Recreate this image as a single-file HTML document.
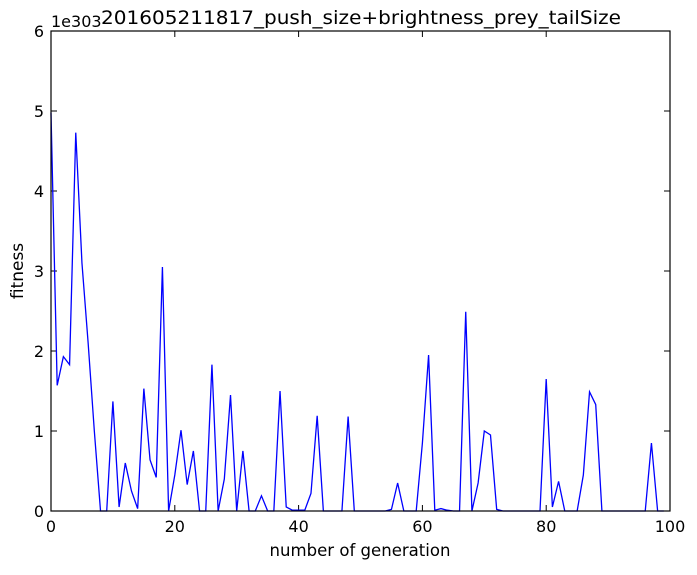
<!DOCTYPE html>
<html><head><meta charset="utf-8"><style>
body{margin:0;background:#fff;}
svg text{font-family:"DejaVu Sans","Liberation Sans",sans-serif;fill:#000;}
</style></head><body>
<svg id="chart" width="697" height="570">
<rect width="697" height="570" fill="#fff"/>
<text x="361" y="24" font-size="19" text-anchor="middle" textLength="520" lengthAdjust="spacingAndGlyphs">201605211817_push_size+brightness_prey_tailSize</text>
<text x="51" y="27" font-size="16">1e303</text>
<text x="360" y="556" font-size="17" text-anchor="middle" textLength="181" lengthAdjust="spacingAndGlyphs">number of generation</text>
<text x="23" y="271" font-size="17" text-anchor="middle" transform="rotate(-90 23 271)">fitness</text>
<g id="ticks"></g>
<path id="line" fill="none" stroke="#0000ff" stroke-width="1.3"/>
<rect x="51" y="31" width="619" height="480" fill="none" stroke="#000" stroke-width="1.2"/>
</svg>
<script>
const fitness=[4.98,1.57,1.93,1.83,4.73,3.1,2.1,1.0,0,0,
1.37,0.05,0.6,0.25,0.03,1.53,0.64,0.42,3.05,0,
0.45,1.01,0.33,0.75,0,0,1.83,0,0.4,1.45,
0,0.75,0,0,0.19,0,0,1.5,0.05,0.01,
0.01,0.01,0.22,1.19,0,0,0,0,1.18,0,
0,0,0,0,0,0.02,0.35,0,0,0,
0.85,1.95,0.01,0.03,0.01,0,0,2.49,0,0.35,
1.0,0.95,0.02,0,0,0,0,0,0,0,
1.65,0.05,0.37,0,0,0,0.45,1.49,1.33,0,
0,0,0,0,0,0,0,0.85,0,0];
const xTicks=[0,20,40,60,80,100];
const yTicks=[0,1,2,3,4,5,6];
const X0=51,X1=670,Y0=511,Y1=31;
function sx(v){return X0+(v-0)/(100-0)*(X1-X0);}
function sy(v){return Y0-(v-0)/(6-0)*(Y0-Y1);}
const ns="http://www.w3.org/2000/svg";
const g=document.getElementById('ticks');
function mk(tag,attrs){const e=document.createElementNS(ns,tag);for(const k in attrs)e.setAttribute(k,attrs[k]);g.appendChild(e);return e;}
xTicks.forEach(t=>{
 const x=sx(t);
 const a=mk('line',{x1:x,x2:x,y1:Y0,y2:Y0-6,stroke:'#000'});
 
 
 const b=mk('line',{x1:x,x2:x,y1:Y1,y2:Y1+6,stroke:'#000'});
 
 
 const l=mk('text',{x:x,y:Y0+21,'font-size':16,'text-anchor':'middle'});
 l.textContent=t;
 
 
});
yTicks.forEach(t=>{
 const y=sy(t);
 const a=mk('line',{x1:X0,x2:X0+6,y1:y,y2:y,stroke:'#000'});
 
 
 const b=mk('line',{x1:X1,x2:X1-6,y1:y,y2:y,stroke:'#000'});
 
 
 const l=mk('text',{x:X0-7,y:y+6,'font-size':16,'text-anchor':'end'});
 l.textContent=t;
 
 
});
document.getElementById('line').setAttribute('d',fitness.map((v,i)=>(i?'L':'M')+sx(i).toFixed(2)+','+sy(v).toFixed(2)).join(''));
</script>
</body></html>
